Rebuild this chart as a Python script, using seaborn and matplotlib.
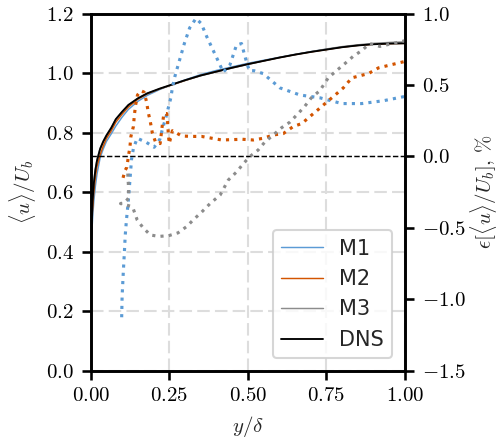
import numpy as np
import pandas as pd
import matplotlib
matplotlib.use('Agg')
import matplotlib.pyplot as plt
import seaborn as sns

# DATA
# mean velocity profiles (left axis)
y_prof = [0.0, 0.003, 0.006, 0.01, 0.015, 0.02, 0.03, 0.04, 0.05, 0.065,
          0.08, 0.10, 0.12, 0.15, 0.18, 0.22, 0.26, 0.30, 0.35, 0.40,
          0.45, 0.50, 0.55, 0.60, 0.65, 0.70, 0.75, 0.80, 0.85, 0.90, 0.95, 1.0]
u_dns = [0.40, 0.50, 0.57, 0.63, 0.675, 0.705, 0.745, 0.77, 0.79, 0.815,
         0.845, 0.87, 0.893, 0.915, 0.932, 0.948, 0.962, 0.976, 0.992, 1.005,
         1.018, 1.03, 1.041, 1.052, 1.062, 1.071, 1.079, 1.087, 1.093, 1.097, 1.099, 1.10]
u_m1 = [0.38, 0.45, 0.51, 0.57, 0.62, 0.66, 0.715, 0.745, 0.77, 0.795,
        0.822, 0.852, 0.878, 0.905, 0.925, 0.945, 0.962, 0.977, 0.995, 1.009,
        1.021, 1.033, 1.043, 1.053, 1.063, 1.072, 1.08, 1.087, 1.093, 1.098, 1.10, 1.102]
u_m2 = [0.39, 0.47, 0.54, 0.60, 0.65, 0.685, 0.725, 0.755, 0.78, 0.805,
        0.835, 0.862, 0.886, 0.912, 0.93, 0.947, 0.961, 0.975, 0.992, 1.005,
        1.018, 1.03, 1.041, 1.052, 1.062, 1.071, 1.079, 1.087, 1.093, 1.097, 1.099, 1.10]
u_m3 = [0.41, 0.51, 0.58, 0.64, 0.68, 0.71, 0.748, 0.772, 0.792, 0.817,
        0.846, 0.871, 0.893, 0.915, 0.932, 0.947, 0.961, 0.975, 0.991, 1.004,
        1.017, 1.029, 1.041, 1.052, 1.062, 1.072, 1.081, 1.089, 1.095, 1.100, 1.103, 1.105]

# error curves (right axis, %)
y_e1 = [0.0986, 0.100, 0.104, 0.107, 0.110, 0.114, 0.119, 0.124, 0.130, 0.136,
        0.148, 0.176, 0.202, 0.220, 0.229, 0.239, 0.247, 0.255, 0.260, 0.268,
        0.277, 0.298, 0.315, 0.335, 0.352, 0.369, 0.401, 0.422, 0.443, 0.464,
        0.480, 0.496, 0.505, 0.520, 0.549, 0.602, 0.666, 0.730, 0.799, 0.863,
        0.932, 1.0]
e_m1 = [-1.126, -0.98, -0.80, -0.68, -0.55, -0.44, -0.33, -0.19, -0.02, 0.057,
        0.127, 0.10, 0.064, 0.12, 0.197, 0.27, 0.34, 0.41, 0.48, 0.56,
        0.63, 0.79, 0.90, 0.966, 0.93, 0.84, 0.69, 0.59, 0.64, 0.78,
        0.79, 0.66, 0.60, 0.60, 0.58, 0.48, 0.43, 0.41, 0.37, 0.37,
        0.39, 0.42]

y_e2 = [0.103, 0.109, 0.115, 0.120, 0.125, 0.128, 0.136, 0.139, 0.143, 0.149,
        0.160, 0.170, 0.178, 0.183, 0.190, 0.196, 0.207, 0.221, 0.228, 0.233,
        0.242, 0.245, 0.247, 0.250, 0.260, 0.290, 0.321, 0.353, 0.417, 0.483,
        0.517, 0.549, 0.581, 0.613, 0.645, 0.672, 0.698, 0.725, 0.751, 0.778,
        0.804, 0.831, 0.884, 0.916, 0.953, 1.0]
e_m2 = [-0.15, -0.10, -0.076, 0.0, 0.07, 0.14, 0.21, 0.29, 0.36, 0.43,
        0.46, 0.45, 0.38, 0.31, 0.24, 0.166, 0.096, 0.09, 0.22, 0.30,
        0.30, 0.23, 0.157, 0.09, 0.18, 0.143, 0.14, 0.14, 0.115, 0.12,
        0.115, 0.127, 0.15, 0.16, 0.21, 0.23, 0.28, 0.33, 0.38, 0.43,
        0.48, 0.55, 0.58, 0.62, 0.64, 0.665]

y_e3 = [0.118, 0.120, 0.121, 0.110, 0.095, 0.112, 0.130, 0.136, 0.148, 0.167,
        0.190, 0.217, 0.248, 0.278, 0.306, 0.326, 0.353, 0.380, 0.412, 0.438,
        0.465, 0.486, 0.507, 0.533, 0.554, 0.581, 0.607, 0.634, 0.660, 0.681,
        0.702, 0.729, 0.756, 0.782, 0.809, 0.835, 0.862, 0.888, 0.920, 0.960, 1.0]
e_m3 = [-0.12, -0.20, -0.29, -0.32, -0.33, -0.34, -0.35, -0.37, -0.445, -0.50,
        -0.55, -0.56, -0.555, -0.535, -0.49, -0.445, -0.39, -0.33, -0.27, -0.165,
        -0.107, -0.05, 0.0, 0.045, 0.10, 0.15, 0.20, 0.24, 0.30, 0.35,
        0.41, 0.46, 0.55, 0.60, 0.65, 0.70, 0.74, 0.79, 0.77, 0.79, 0.81]

labels = ['M1', 'M2', 'M3', 'DNS']
COLORS = {'M1': '#5b9bd5', 'M2': '#d35400', 'M3': '#8c8c8c', 'DNS': '#000000'}

sns.set_style('ticks')
plt.rcParams.update({
    'font.family': 'serif',
    'font.serif': ['cmr10'],
    'mathtext.fontset': 'cm',
    'axes.formatter.use_mathtext': True,
    'font.size': 10,
    'axes.linewidth': 1.25,
    'xtick.major.width': 1.25,
    'ytick.major.width': 1.25,
    'xtick.major.size': 4.5,
    'ytick.major.size': 4.5,
    'xtick.color': 'black',
    'ytick.color': 'black',
    'axes.edgecolor': 'black',
})

fig = plt.figure(figsize=(503 / 150, 438 / 150), dpi=150)
ax = fig.add_axes([0.1803, 0.1537, 0.805 - 0.1803, 0.969 - 0.1537])
ax2 = ax.twinx()

# velocity profiles
prof = pd.DataFrame({'y': y_prof, 'M1': u_m1, 'M2': u_m2, 'M3': u_m3, 'DNS': u_dns})
for lab in labels:
    lw = 0.9 if lab == 'DNS' else 0.7
    sns.lineplot(data=prof, x='y', y=lab, ax=ax, color=COLORS[lab], lw=lw,
                 label=lab, sort=False, estimator=None, legend=False)

# error curves
for lab, yy, ee in [('M1', y_e1, e_m1), ('M2', y_e2, e_m2), ('M3', y_e3, e_m3)]:
    sns.lineplot(x=yy, y=ee, ax=ax2, color=COLORS[lab], lw=1.5, ls=':',
                 sort=False, estimator=None, legend=False)
ax2.axhline(0, color='black', lw=0.7, ls='--', zorder=1)

ax.set_xlim(0, 1)
ax.set_ylim(0, 1.2)
ax2.set_ylim(-1.5, 1.0)
ax.set_xticks([0, 0.25, 0.5, 0.75, 1.0])
ax.set_yticks(np.arange(0, 1.21, 0.2))
ax2.set_yticks([-1.5, -1.0, -0.5, 0.0, 0.5, 1.0])

ax.grid(True, color='#dddddd', lw=1.0, ls=(0, (6, 2.5)))
ax.set_axisbelow(True)

ax.set_xlabel(r'$y/\delta$')
ax.set_ylabel(r'$\langle u\rangle/U_b$')
ax2.set_ylabel(r'$\epsilon[\langle u\rangle/U_b]$, %', labelpad=1)

for a in (ax, ax2):
    for s in a.spines.values():
        s.set_visible(True)
        s.set_linewidth(1.25)

handles = ax.get_lines()[:4]
leg = ax2.legend(handles, labels, loc='lower right', prop={'family': 'DejaVu Sans', 'size': 10},
                 frameon=True, fancybox=True, framealpha=0.8, edgecolor='#cccccc',
                 borderaxespad=0.6)

fig.savefig('out.png', dpi=150)
